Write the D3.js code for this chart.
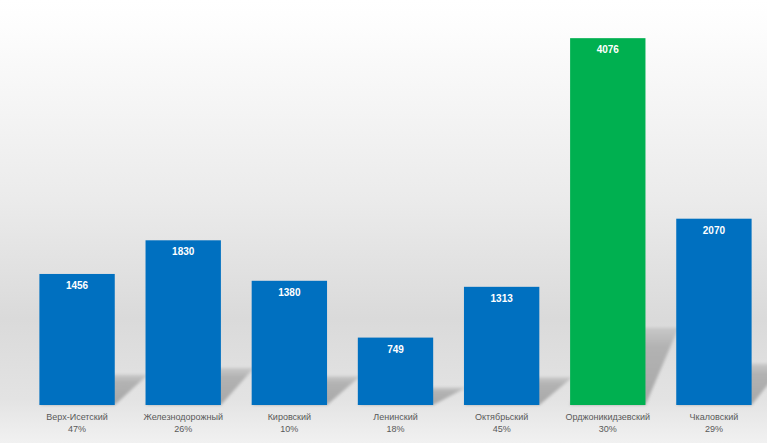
<!DOCTYPE html>
<html><head><meta charset="utf-8">
<script src="https://cdn.jsdelivr.net/npm/d3@7"></script>
<style>html,body{margin:0;padding:0;overflow:hidden;background:#fff}</style>
</head><body>
<svg id="chart" width="767" height="443"></svg>
<script>
const categories = ["Верх-Исетский","Железнодорожный","Кировский","Ленинский","Октябрьский","Орджоникидзевский","Чкаловский"];
const shares = ["47%","26%","10%","18%","45%","30%","29%"];
const values = [1456,1830,1380,749,1313,4076,2070];
const highlight = "Орджоникидзевский";

const W = 767, H = 443;
const svg = d3.select("#chart");
const defs = svg.append("defs");

const bg = defs.append("linearGradient").attr("id","bg").attr("x1",0).attr("y1",0).attr("x2",0).attr("y2",1);
[[0,"#ffffff"],[0.06,"#fdfdfd"],[0.45,"#ebebeb"],[0.72,"#dadada"],[0.9,"#e3e3e3"],[1,"#f1f1f1"]]
  .forEach(([o,c])=>bg.append("stop").attr("offset",o).attr("stop-color",c));
svg.append("rect").attr("width",W).attr("height",H).attr("fill","url(#bg)");

const sg = defs.append("linearGradient").attr("id","sh").attr("x1",0).attr("y1",1).attr("x2",0).attr("y2",0);
sg.append("stop").attr("offset",0).attr("stop-color","#a8a8a8");
sg.append("stop").attr("offset",0.75).attr("stop-color","#b2b2b2");
sg.append("stop").attr("offset",1).attr("stop-color","#c8c8c8");
const blur = defs.append("filter").attr("id","blur").attr("x","-20%").attr("y","-20%").attr("width","140%").attr("height","140%");
blur.append("feGaussianBlur").attr("stdDeviation",1.5);

const x = d3.scaleBand().domain(categories).range([24, 767]).paddingInner(0.29).paddingOuter(0.145);
const y = d3.scaleLinear().domain([0, 4500]).range([405, 0]);
const base = y(0);

const data = categories.map((c,i)=>({c, v: values[i], s: shares[i]}));

// shadows
svg.append("g").selectAll("path").data(data).join("path")
  .attr("fill","url(#sh)").attr("filter","url(#blur)")
  .attr("d", d => {
    const x0 = x(d.c), x1 = x0 + x.bandwidth();
    const h = base - y(d.v);
    const sh = 0.2*h + 4, dx = 33;
    return `M${x0},${base}L${x1},${base}L${x1+dx},${base-sh}L${x0+dx},${base-sh}Z`;
  });

// bars
svg.append("g").selectAll("rect").data(data).join("rect")
  .attr("x", d => x(d.c)).attr("width", x.bandwidth())
  .attr("y", d => y(d.v)).attr("height", d => base - y(d.v))
  .attr("fill", d => d.c === highlight ? "#00B050" : "#0070C0");

// value labels
svg.append("g").selectAll("text").data(data).join("text")
  .attr("x", d => x(d.c) + x.bandwidth()/2).attr("y", d => y(d.v) + 15)
  .attr("text-anchor","middle").attr("fill","#fff")
  .style("font-family","'Liberation Sans', Arial, sans-serif").style("font-weight","bold").style("font-size","10px")
  .text(d => d.v);

// category axis labels
const xa = svg.append("g").attr("transform",`translate(0,${base})`)
  .call(d3.axisBottom(x).tickSize(0).tickFormat(""));
xa.select(".domain").remove();
const lab = svg.append("g").selectAll("text").data(data).join("text")
  .attr("text-anchor","middle").attr("fill","#595959")
  .style("font-family","'Liberation Sans', Arial, sans-serif").style("font-size","9px");
lab.append("tspan").attr("x", d => x(d.c) + x.bandwidth()/2).attr("y", 420).text(d => d.c);
lab.append("tspan").attr("x", d => x(d.c) + x.bandwidth()/2).attr("y", 432).text(d => d.s);
</script>
</body></html>
